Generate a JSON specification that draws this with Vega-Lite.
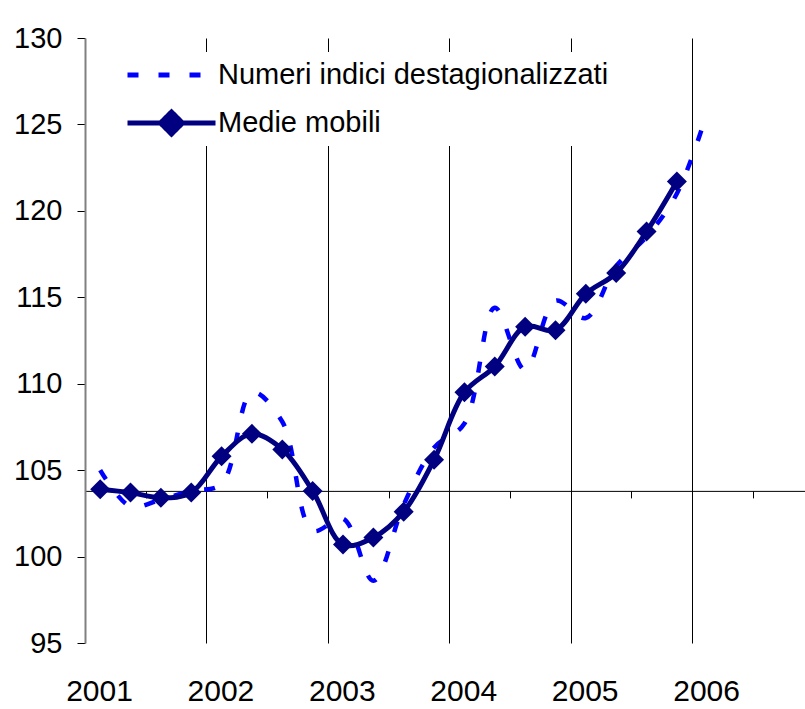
{
  "$schema": "https://vega.github.io/schema/vega-lite/v6.json",
  "width": 720,
  "height": 605,
  "autosize": {"type": "none"},
  "padding": {"left": 85, "top": 38, "right": 0, "bottom": 66},
  "background": "white",
  "config": {"view": {"stroke": null}, "font": "Liberation Sans"},
  "data": {
    "values": [
      {"serie": "Numeri indici destagionalizzati", "t": 2001.125, "v": 105.0},
      {"serie": "Numeri indici destagionalizzati", "t": 2001.375, "v": 102.9},
      {"serie": "Numeri indici destagionalizzati", "t": 2001.625, "v": 103.3},
      {"serie": "Numeri indici destagionalizzati", "t": 2001.875, "v": 103.8},
      {"serie": "Numeri indici destagionalizzati", "t": 2002.125, "v": 104.2},
      {"serie": "Numeri indici destagionalizzati", "t": 2002.375, "v": 109.5},
      {"serie": "Numeri indici destagionalizzati", "t": 2002.625, "v": 107.8},
      {"serie": "Numeri indici destagionalizzati", "t": 2002.875, "v": 101.5},
      {"serie": "Numeri indici destagionalizzati", "t": 2003.125, "v": 102.2},
      {"serie": "Numeri indici destagionalizzati", "t": 2003.375, "v": 98.6},
      {"serie": "Numeri indici destagionalizzati", "t": 2003.625, "v": 103.0},
      {"serie": "Numeri indici destagionalizzati", "t": 2003.875, "v": 106.3},
      {"serie": "Numeri indici destagionalizzati", "t": 2004.125, "v": 107.7},
      {"serie": "Numeri indici destagionalizzati", "t": 2004.375, "v": 114.4},
      {"serie": "Numeri indici destagionalizzati", "t": 2004.625, "v": 110.8},
      {"serie": "Numeri indici destagionalizzati", "t": 2004.875, "v": 114.8},
      {"serie": "Numeri indici destagionalizzati", "t": 2005.125, "v": 113.8},
      {"serie": "Numeri indici destagionalizzati", "t": 2005.375, "v": 116.8},
      {"serie": "Numeri indici destagionalizzati", "t": 2005.625, "v": 118.5},
      {"serie": "Numeri indici destagionalizzati", "t": 2005.875, "v": 121.0},
      {"serie": "Numeri indici destagionalizzati", "t": 2006.125, "v": 125.7},
      {"serie": "Medie mobili", "t": 2001.125, "v": 103.9},
      {"serie": "Medie mobili", "t": 2001.375, "v": 103.7},
      {"serie": "Medie mobili", "t": 2001.625, "v": 103.4},
      {"serie": "Medie mobili", "t": 2001.875, "v": 103.7},
      {"serie": "Medie mobili", "t": 2002.125, "v": 105.8},
      {"serie": "Medie mobili", "t": 2002.375, "v": 107.1},
      {"serie": "Medie mobili", "t": 2002.625, "v": 106.2},
      {"serie": "Medie mobili", "t": 2002.875, "v": 103.8},
      {"serie": "Medie mobili", "t": 2003.125, "v": 100.7},
      {"serie": "Medie mobili", "t": 2003.375, "v": 101.1},
      {"serie": "Medie mobili", "t": 2003.625, "v": 102.6},
      {"serie": "Medie mobili", "t": 2003.875, "v": 105.6},
      {"serie": "Medie mobili", "t": 2004.125, "v": 109.5},
      {"serie": "Medie mobili", "t": 2004.375, "v": 111.0},
      {"serie": "Medie mobili", "t": 2004.625, "v": 113.3},
      {"serie": "Medie mobili", "t": 2004.875, "v": 113.1},
      {"serie": "Medie mobili", "t": 2005.125, "v": 115.2},
      {"serie": "Medie mobili", "t": 2005.375, "v": 116.4},
      {"serie": "Medie mobili", "t": 2005.625, "v": 118.8},
      {"serie": "Medie mobili", "t": 2005.875, "v": 121.7}
    ]
  },
  "resolve": {"axis": {"x": "independent"}},
  "layer": [
    {
      "transform": [{"filter": "datum.serie === 'Numeri indici destagionalizzati'"}],
      "mark": {"type": "line", "interpolate": "catmull-rom", "strokeWidth": 4.5, "strokeDash": [11, 20], "strokeCap": "butt"},
      "encoding": {
        "x": {
          "field": "t", "type": "quantitative",
          "scale": {"domain": [2001, 2006.93], "nice": false, "zero": false},
          "axis": {
            "orient": "bottom", "title": null, "format": "d",
            "values": [2001, 2002, 2003, 2004, 2005, 2006],
            "grid": true,
            "gridColor": {"condition": {"test": "datum.value === 2001", "value": "transparent"}, "value": "#000000"},
            "gridWidth": 1,
            "domain": false, "ticks": false, "tickSize": 0,
            "labelFontSize": 30, "labelColor": "#000000", "labelPadding": 33,
            "labelOffset": 14, "labelFlush": false, "labelOverlap": false, "labelBound": false
          }
        },
        "y": {
          "field": "v", "type": "quantitative",
          "scale": {"domain": [95, 130], "nice": false, "zero": false},
          "axis": {
            "title": null, "values": [95, 100, 105, 110, 115, 120, 125, 130],
            "grid": false, "domainColor": "#808080", "domainWidth": 2,
            "tickColor": "#000000", "tickSize": 8, "tickWidth": 1,
            "labelFontSize": 29, "labelColor": "#000000", "labelPadding": 15,
            "labelFlush": false, "labelOverlap": false, "labelBound": false
          }
        },
        "color": {
          "field": "serie", "type": "nominal",
          "scale": {"domain": ["Numeri indici destagionalizzati", "Medie mobili"], "range": ["#0000FF", "#000080"]},
          "legend": {
            "orient": "none", "legendX": 32, "legendY": 14, "title": null,
            "padding": 8, "fillColor": "white", "strokeColor": null,
            "labelFontSize": 29, "labelColor": "#000000", "labelFont": "Liberation Sans",
            "labelLimit": 0, "labelOffset": 0, "clipHeight": 30, "rowPadding": 18,
            "symbolSize": 7744, "symbolStrokeWidth": 5,
            "encode": {
              "symbols": {
                "update": {
                  "shape": {"signal": "datum.value === 'Medie mobili' ? 'M-1,0L1,0M0,-0.25L0.25,0L0,0.25L-0.25,0Z' : 'M-1,0L1,0'"},
                  "strokeDash": {"signal": "datum.value === 'Medie mobili' ? [1, 0] : [11, 20]"},
                  "fill": {"signal": "datum.value === 'Medie mobili' ? '#000080' : 'transparent'"},
                  "stroke": {"signal": "datum.value === 'Medie mobili' ? '#000080' : '#0000FF'"},
                  "strokeWidth": {"value": 5},
                  "strokeCap": {"value": "butt"},
                  "size": {"value": 7744},
                  "opacity": {"value": 1}
                }
              }
            }
          }
        }
      }
    },
    {
      "transform": [{"filter": "datum.serie === 'Medie mobili'"}],
      "mark": {"type": "line", "interpolate": "catmull-rom", "strokeWidth": 5},
      "encoding": {
        "x": {
          "field": "t", "type": "quantitative",
          "axis": {
            "orient": "bottom", "title": null,
            "offset": {"expr": "scale('y', 103.8) - height"},
            "values": [2001.5, 2002.5, 2003.5, 2004.5, 2005.5, 2006.5],
            "domain": true, "domainColor": "#000000", "domainWidth": 1,
            "ticks": true, "tickSize": 7, "tickColor": "#000000", "tickWidth": 1,
            "labels": false, "grid": false
          }
        },
        "y": {"field": "v", "type": "quantitative"},
        "color": {"field": "serie", "type": "nominal"}
      }
    },
    {
      "transform": [{"filter": "datum.serie === 'Medie mobili'"}],
      "mark": {"type": "point", "shape": "diamond", "filled": true, "size": 400, "opacity": 1},
      "encoding": {
        "x": {"field": "t", "type": "quantitative", "axis": null},
        "y": {"field": "v", "type": "quantitative"},
        "color": {"field": "serie", "type": "nominal"}
      }
    }
  ]
}
